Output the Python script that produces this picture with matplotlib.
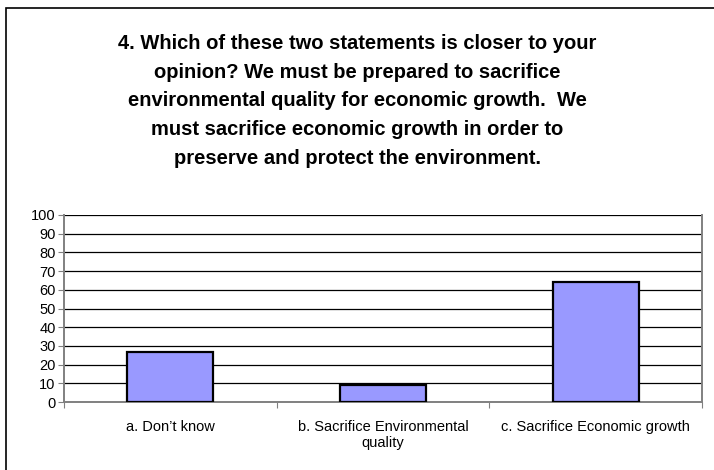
import matplotlib.pyplot as plt
from matplotlib.patches import Rectangle

plt.rcParams['font.family'] = ['Liberation Sans', 'DejaVu Sans']

# chart data
categories = ["a. Don\u2019t know", "b. Sacrifice Environmental\nquality", "c. Sacrifice Economic growth"]
values = [27, 9, 64]
yticks = list(range(0, 101, 10))

title = ("4. Which of these two statements is closer to your\n"
         "opinion? We must be prepared to sacrifice\n"
         "environmental quality for economic growth.  We\n"
         "must sacrifice economic growth in order to\n"
         "preserve and protect the environment.")

fig = plt.figure(figsize=(7.14, 4.70), dpi=100)

# outer frame (runs off right and bottom edges like the original)
fig.patches.append(Rectangle((6 / 714, -0.05), 1.1, 1.05 - 8 / 470,
                             transform=fig.transFigure, fill=False,
                             edgecolor="black", linewidth=1.2))

ax = fig.add_axes([64 / 714, 1 - 402 / 470, (702 - 64) / 714, (402 - 215) / 470])

x = range(len(categories))
ax.bar(x, values, width=0.405, color="#9999FF", edgecolor="black", linewidth=1.6, zorder=3)

ax.set_xlim(-0.5, len(categories) - 0.5)
ax.set_ylim(0, 100)
ax.set_yticks(yticks)
ax.yaxis.grid(True, color="black", linewidth=0.9, zorder=0)
ax.set_axisbelow(True)

# ticks sit between categories
ax.set_xticks([i - 0.5 for i in range(len(categories) + 1)])
ax.set_xticklabels([])
ax.set_xticks(list(x), minor=True)
ax.set_xticklabels(categories, minor=True, fontsize=10.5)
ax.tick_params(axis="x", which="minor", length=0, pad=13)
ax.tick_params(axis="x", which="major", length=4, color="#808080", direction="out")
ax.tick_params(axis="y", length=4, color="#808080", labelsize=10.5, pad=2)

for side in ["left", "bottom", "right"]:
    ax.spines[side].set_color("#808080")
    ax.spines[side].set_linewidth(1.4)
ax.spines["top"].set_visible(False)

fig.text(0.5, 1 - 34 / 470, title, ha="center", va="top", fontsize=14.5,
         fontweight="bold", linespacing=1.65)

fig.savefig("out.png", dpi=100)
